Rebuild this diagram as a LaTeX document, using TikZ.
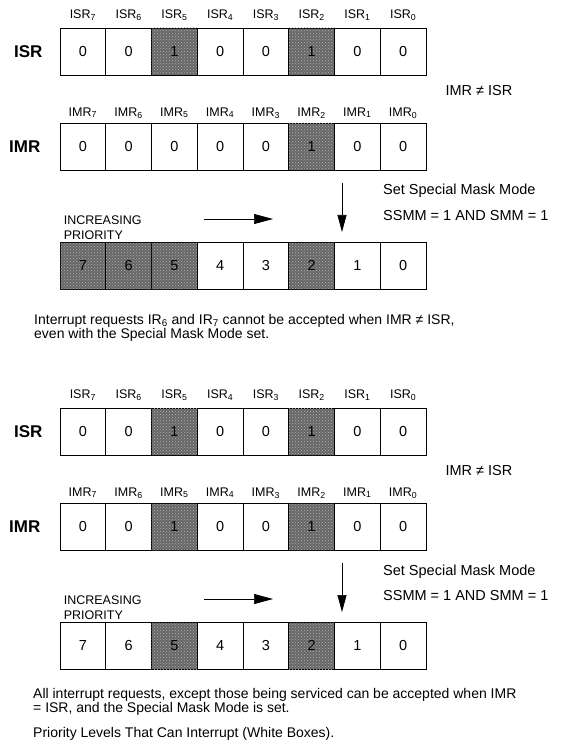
\documentclass[tikz,border=0pt]{standalone}
\usepackage{fontspec}
\setmainfont{Liberation Sans}
\usetikzlibrary{arrows.meta,calc,patterns,positioning}

\begin{document}
\begin{tikzpicture}[
    x=1pt, y=1pt,
    bitbox/.style={
        draw=black,
        line width=0.8pt,
        minimum width=45.75pt,
        minimum height=47pt,
        inner sep=0pt,
        font=\fontsize{14.5}{16}\selectfont
    },
    masked/.style={
        fill=black!60,
        postaction={pattern=crosshatch dots, pattern color=black!30}
    },
    sublabel/.style={font=\fontsize{12.5}{14}\selectfont, inner sep=0pt},
    rowlabel/.style={font=\fontsize{17}{19}\selectfont\bfseries, inner sep=0pt},
    note/.style={font=\fontsize{14.5}{16}\selectfont, inner sep=0pt},
    caption/.style={font=\fontsize{14}{14.2}\selectfont, align=left, inner sep=0pt},
    prio/.style={font=\fontsize{12.5}{15}\selectfont, align=left, inner sep=0pt},
    downarrow/.style={-{Triangle[length=17pt,width=9pt]}, line width=0.7pt},
    rightarrow/.style={-{Triangle[length=19pt,width=10pt]}, line width=0.7pt}
]
\useasboundingbox (0,0) rectangle (567,-743);

% Upper example: IMR differs from ISR, only IR2 masked.
\foreach \j/\v/\s in {1/0/0,2/0/0,3/1/1,4/0/0,5/0/0,6/1/1,7/0/0,8/0/0} {
    \pgfmathsetmacro{\x}{60+45.75*(\j-0.5)}
    \pgfmathtruncatemacro{\b}{8-\j}
    \ifnum\s=1
        \node[bitbox, masked] (aISR\j) at (\x,-51.5) {\v};
    \else
        \node[bitbox] (aISR\j) at (\x,-51.5) {\v};
    \fi
    \node[sublabel, anchor=base] at ($(aISR\j.north)+(0,9)$) {ISR\textsubscript{\b}};
}
\foreach \j/\v/\s in {1/0/0,2/0/0,3/0/0,4/0/0,5/0/0,6/1/1,7/0/0,8/0/0} {
    \pgfmathsetmacro{\x}{60+45.75*(\j-0.5)}
    \pgfmathtruncatemacro{\b}{8-\j}
    \ifnum\s=1
        \node[bitbox, masked] (aIMR\j) at (\x,-147) {\v};
    \else
        \node[bitbox] (aIMR\j) at (\x,-147) {\v};
    \fi
    \node[sublabel, anchor=base] at ($(aIMR\j.north)+(0,7)$) {IMR\textsubscript{\b}};
}
\foreach \j/\s in {1/1,2/1,3/1,4/0,5/0,6/1,7/0,8/0} {
    \pgfmathsetmacro{\x}{60+45.75*(\j-0.5)}
    \pgfmathtruncatemacro{\b}{8-\j}
    \ifnum\s=1
        \node[bitbox, masked] (aPRI\j) at (\x,-265.5) {\b};
    \else
        \node[bitbox] (aPRI\j) at (\x,-265.5) {\b};
    \fi
}

\node[rowlabel, left=17pt of aISR1] {ISR};
\node[rowlabel, left=19pt of aIMR1] {IMR};
\node[note, anchor=west] (aNeq) at ($(aISR8.south east)+(19,-15)$) {IMR ≠ ISR};

\coordinate (aDownTop) at (342,-183);
\coordinate (aDownTip) at (342,-232);
\draw[downarrow] (aDownTop) -- (aDownTip);
\node[note, anchor=base west] (aSet) at (383,-195) {Set Special Mask Mode};
\node[note, anchor=base west] (aSsmm) at (383,-220) {SSMM = 1 AND SMM = 1};

\node[prio, anchor=south west] (aInc) at ($(aPRI1.north west)+(4,2)$) {INCREASING\\PRIORITY};
\coordinate (aIncL) at (204,-219);
\coordinate (aIncR) at (273,-219);
\draw[rightarrow] (aIncL) -- (aIncR);

\node[caption, anchor=north west] (aText) at (34,-314)
    {Interrupt requests IR\textsubscript{6} and IR\textsubscript{7} cannot be accepted when IMR ≠ ISR,\\
     even with the Special Mask Mode set.};

% Lower example: IMR equals ISR.
\foreach \j/\v/\s in {1/0/0,2/0/0,3/1/1,4/0/0,5/0/0,6/1/1,7/0/0,8/0/0} {
    \pgfmathsetmacro{\x}{60+45.75*(\j-0.5)}
    \pgfmathtruncatemacro{\b}{8-\j}
    \ifnum\s=1
        \node[bitbox, masked] (bISR\j) at (\x,-431.5) {\v};
    \else
        \node[bitbox] (bISR\j) at (\x,-431.5) {\v};
    \fi
    \node[sublabel, anchor=base] at ($(bISR\j.north)+(0,9)$) {ISR\textsubscript{\b}};
}
\foreach \j/\v/\s in {1/0/0,2/0/0,3/1/1,4/0/0,5/0/0,6/1/1,7/0/0,8/0/0} {
    \pgfmathsetmacro{\x}{60+45.75*(\j-0.5)}
    \pgfmathtruncatemacro{\b}{8-\j}
    \ifnum\s=1
        \node[bitbox, masked] (bIMR\j) at (\x,-527) {\v};
    \else
        \node[bitbox] (bIMR\j) at (\x,-527) {\v};
    \fi
    \node[sublabel, anchor=base] at ($(bIMR\j.north)+(0,7)$) {IMR\textsubscript{\b}};
}
\foreach \j/\s in {1/0,2/0,3/1,4/0,5/0,6/1,7/0,8/0} {
    \pgfmathsetmacro{\x}{60+45.75*(\j-0.5)}
    \pgfmathtruncatemacro{\b}{8-\j}
    \ifnum\s=1
        \node[bitbox, masked] (bPRI\j) at (\x,-645.5) {\b};
    \else
        \node[bitbox] (bPRI\j) at (\x,-645.5) {\b};
    \fi
}

\node[rowlabel, left=17pt of bISR1] {ISR};
\node[rowlabel, left=19pt of bIMR1] {IMR};
\node[note, anchor=west] (bNeq) at ($(bISR8.south east)+(19,-15)$) {IMR ≠ ISR};

\coordinate (bDownTop) at (342,-563);
\coordinate (bDownTip) at (342,-612);
\draw[downarrow] (bDownTop) -- (bDownTip);
\node[note, anchor=base west] (bSet) at (383,-575) {Set Special Mask Mode};
\node[note, anchor=base west] (bSsmm) at (383,-600) {SSMM = 1 AND SMM = 1};

\node[prio, anchor=south west] (bInc) at ($(bPRI1.north west)+(4,2)$) {INCREASING\\PRIORITY};
\coordinate (bIncL) at (204,-599);
\coordinate (bIncR) at (273,-599);
\draw[rightarrow] (bIncL) -- (bIncR);

\node[caption, anchor=north west] (bText) at (33,-688)
    {All interrupt requests, except those being serviced can be accepted when IMR\\
     = ISR, and the Special Mask Mode is set.};
\node[caption, anchor=base west] (bLevels) at (33,-737)
    {Priority Levels That Can Interrupt (White Boxes).};

\end{tikzpicture}
\end{document}
